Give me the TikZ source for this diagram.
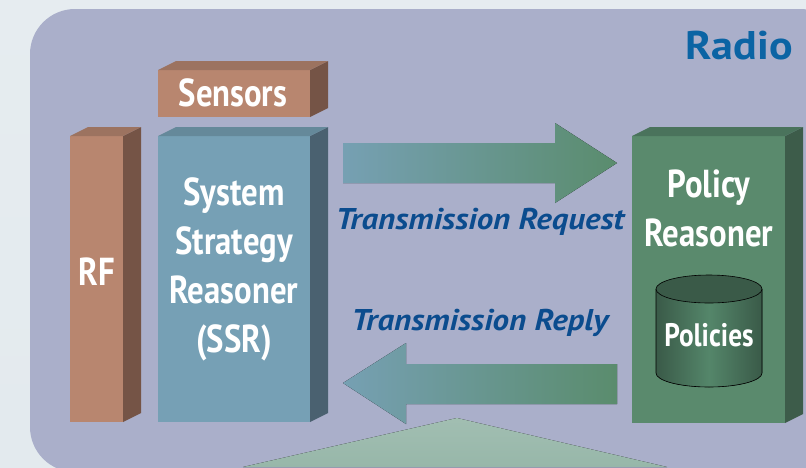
\documentclass[tikz,border=0pt]{standalone}
\usepackage{fontspec}
\setmainfont{PT Sans}[FakeStretch=0.84]
\newfontfamily\lblfont{PT Sans}[FakeStretch=1.1]
\usetikzlibrary{calc}
\definecolor{bgpage}{HTML}{E3EAEE}
\definecolor{radiobg}{HTML}{AAAFCA}
\definecolor{rfF}{HTML}{B8866F}
\definecolor{rfS}{HTML}{755446}
\definecolor{rfT}{HTML}{9C7360}
\definecolor{ssrF}{HTML}{76A0B5}
\definecolor{ssrS}{HTML}{4A6170}
\definecolor{ssrT}{HTML}{65899A}
\definecolor{polF}{HTML}{5A8A6D}
\definecolor{polS}{HTML}{3D5C4A}
\definecolor{polT}{HTML}{4A735C}
\definecolor{arrL}{HTML}{76A0B3}
\definecolor{arrR}{HTML}{5A8C6D}
\definecolor{cylD}{HTML}{3A5A48}
\definecolor{cylL}{HTML}{54866A}
\definecolor{radioblue}{HTML}{0B64A4}
\definecolor{lblblue}{HTML}{0B4C8E}
\definecolor{trap}{HTML}{97B7A9}
\tikzset{
  front/.style={inner sep=0pt, outer sep=0pt, draw=none},
  boxtext/.style={text=white, font=\bfseries\fontsize{39}{49}\selectfont, align=center, inner sep=0pt},
  lbl/.style={text=lblblue, font=\lblfont\bfseries\itshape\fontsize{30}{34}\selectfont, inner sep=0pt},
}
\newcommand{\sidetop}[3]{%
  \fill[#2] (#1.north east) -- ++(18,-9) -- ($(#1.south east)+(18,-9)$) -- (#1.south east) -- cycle;
  \fill[#3] (#1.north west) -- ++(18,-9) -- ($(#1.north east)+(18,-9)$) -- (#1.north east) -- cycle;
}
\begin{document}
\begin{tikzpicture}[x=1pt,y=-1pt]
\useasboundingbox (0,0) rectangle (806,467);
\fill[top color=bgpage!90!white, bottom color=bgpage] (0,0) rectangle (806,467);
\fill[radiobg, rounded corners=45pt] (30,9) rectangle (845,472);
\node[anchor=east, text=radioblue, font=\lblfont\bfseries\fontsize{40}{44}\selectfont, inner sep=0pt] (radio) at (793,46) {Radio};

% green trapezoid at bottom
\fill[top color=trap!90!white, bottom color=trap] (457,418) -- (667,467) -- (243,467) -- cycle;

% Sensors
\node[front, fill=rfF, minimum width=152pt, minimum height=47pt] (sens) at (234,93.5) {};
\sidetop{sens}{rfS}{rfT}
\node[boxtext] (senst) at (233,93) {Sensors};

% RF
\node[front, fill=rfF, minimum width=53pt, minimum height=286pt] (rf) at (96.5,279) {};
\sidetop{rf}{rfS}{rfT}
\node[boxtext] (rft) at (97,272) {RF};

% SSR
\node[front, fill=ssrF, minimum width=152pt, minimum height=286pt] (ssr) at (234,279) {};
\sidetop{ssr}{ssrS}{ssrT}
\node[boxtext] (ssrt) at (234,269) {System\\Strategy\\Reasoner\\(SSR)};

% Policy reasoner
\node[front, fill=polF, minimum width=153pt, minimum height=287pt] (pol) at (708.5,279.5) {};
\sidetop{pol}{polS}{polT}
\node[boxtext] (polt) at (709,208) {Policy\\Reasoner};

% Cylinder
\coordinate (cyltop) at (709,289);
\coordinate (cylbot) at (709,373);
\fill[left color=cylD, right color=cylD, middle color=cylL]
  (656,289) -- (656,373) arc[start angle=180, end angle=360, x radius=53, y radius=-14] -- (762,289) -- cycle;
\draw[black, line width=0.6pt] (656,289) -- (656,373) arc[start angle=180, end angle=360, x radius=53, y radius=-14] -- (762,289);
\draw[black, line width=0.6pt, fill=cylD] (cyltop) ellipse[x radius=53, y radius=14];
\node[text=white, font=\bfseries\fontsize{32.5}{36}\selectfont, inner sep=0pt] (polc) at (709,335) {Policies};

% Arrows
\fill[left color=arrL, right color=arrR]
  (343,143) -- (555,143) -- (555,123) -- (617,163) -- (555,203) -- (555,183) -- (343,183) -- cycle;
\fill[left color=arrL, right color=arrR]
  (617,364) -- (406,364) -- (406,343) -- (343,383) -- (406,424) -- (406,404) -- (617,404) -- cycle;

\node[lbl] (req) at (480,222) {Transmission Request};
\node[lbl] (rep) at (480,323) {Transmission Reply};
\end{tikzpicture}
\end{document}
